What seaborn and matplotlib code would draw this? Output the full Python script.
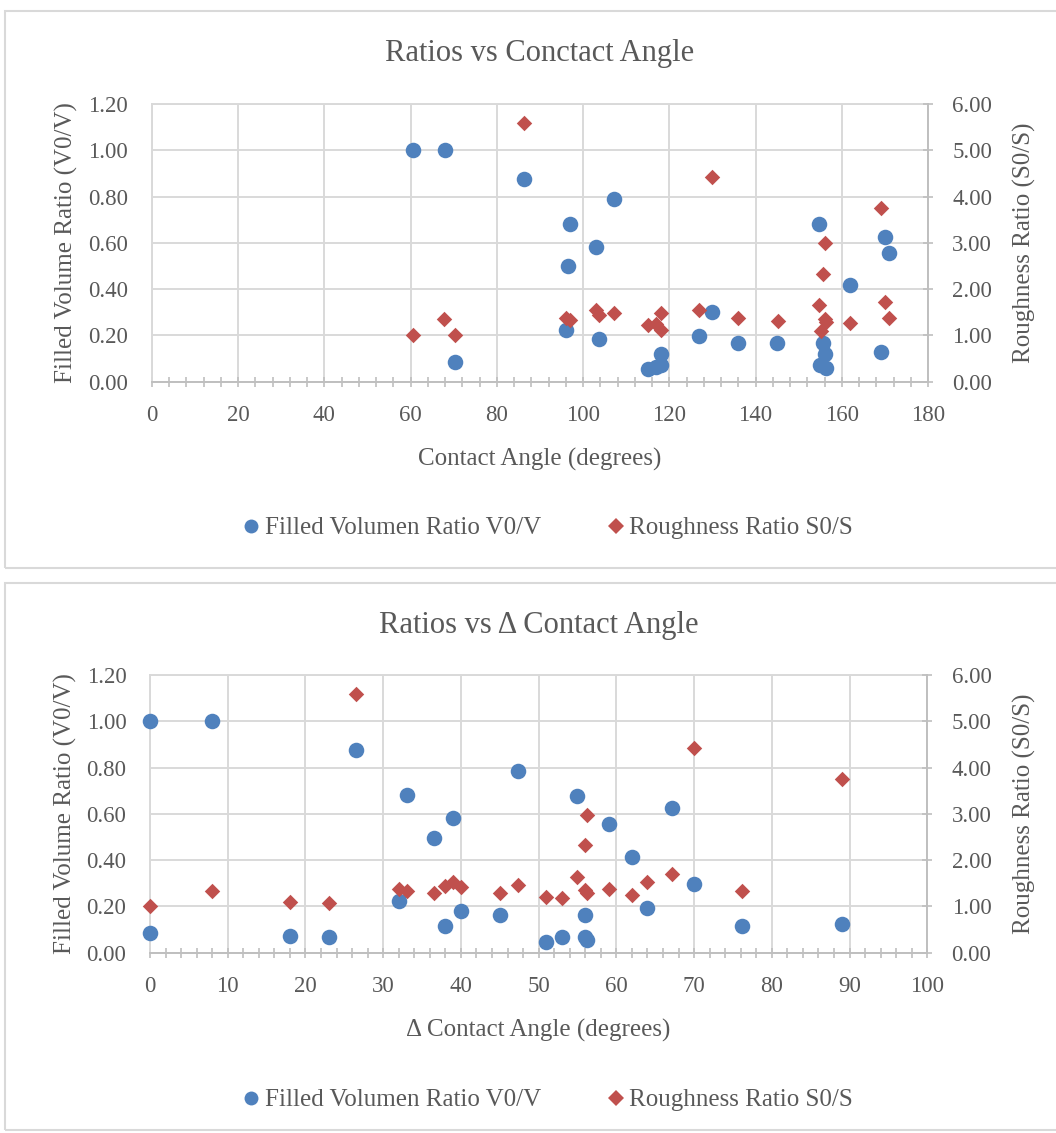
import matplotlib
matplotlib.use("Agg")
import matplotlib.pyplot as plt
import seaborn as sns
import pandas as pd
from matplotlib.patches import Rectangle
from matplotlib.lines import Line2D
from matplotlib.ticker import MultipleLocator, FormatStrFormatter

# ---------------- data ----------------
angle_blue = [60.5, 68.0, 70.2, 86.3, 96.0, 96.6, 97.0, 103.0, 103.8, 107.2,
              115.0, 117.0, 118.0, 118.0, 127.0, 129.9, 136.0, 145.0,
              154.8, 155.0, 155.7, 156.1, 156.4, 162.0, 169.1, 170.0, 171.0]
vol_ratio = [1.00, 1.00, 0.086, 0.875, 0.223, 0.500, 0.681, 0.583, 0.183, 0.788,
             0.054, 0.065, 0.119, 0.072, 0.197, 0.300, 0.168, 0.168,
             0.680, 0.072, 0.168, 0.120, 0.058, 0.418, 0.130, 0.626, 0.556]

angle_red = [60.5, 67.8, 70.2, 86.3, 96.0, 96.9, 103.0, 103.8, 107.2,
             115.0, 117.0, 118.0, 118.0, 127.0, 129.9, 136.0, 145.2,
             154.8, 155.1, 155.7, 156.1, 156.1, 156.3, 162.0, 169.1, 170.0, 171.0]
rough_ratio = [1.00, 1.35, 1.00, 5.58, 1.38, 1.33, 1.55, 1.44, 1.48,
               1.22, 1.25, 1.48, 1.12, 1.54, 4.42, 1.37, 1.31,
               1.66, 1.10, 2.33, 2.99, 1.35, 1.28, 1.26, 3.76, 1.715, 1.37]

delta_blue = [0.0, 8.0, 26.5, 47.3, 33.0, 39.0, 36.6, 32.0, 40.0, 38.0, 45.0,
              0.0, 18.0, 23.0, 54.9, 67.1, 59.0, 62.0, 70.0, 64.0, 56.0,
              76.1, 89.0, 51.0, 53.0, 56.0, 56.2]
delta_vol_ratio = [1.00, 1.00, 0.874, 0.787, 0.681, 0.582, 0.497, 0.222, 0.182, 0.114, 0.165,
                   0.084, 0.071, 0.069, 0.677, 0.625, 0.554, 0.414, 0.297, 0.193, 0.165,
                   0.116, 0.126, 0.048, 0.067, 0.067, 0.055]

delta_red = [0.0, 8.0, 18.0, 23.0, 26.5, 32.0, 33.0, 36.6, 38.0, 39.0, 40.0, 45.0, 47.3,
             51.0, 53.0, 54.9, 56.0, 56.2, 55.9, 56.2, 59.0, 62.0, 64.0, 67.1, 70.0, 76.1, 89.0]
delta_rough_ratio = [1.00, 1.34, 1.09, 1.075, 5.58, 1.385, 1.33, 1.285, 1.45, 1.52, 1.415, 1.285, 1.46,
                     1.20, 1.185, 1.645, 1.36, 1.30, 2.32, 2.98, 1.37, 1.255, 1.52, 1.70, 4.42, 1.34, 3.75]

titles = ["Ratios vs Conctact Angle", "Ratios vs \u0394 Contact Angle"]
xlabels = ["Contact Angle (degrees)", "\u0394 Contact Angle (degrees)"]
left_label = "Filled Volume Ratio (V0/V)"
right_label = "Roughness Ratio (S0/S)"
legend_labels = ["Filled Volumen Ratio V0/V", "Roughness Ratio S0/S"]

# ---------------- style ----------------
BLUE = "#4F81BD"
RED = "#C0504D"
TXT = "#595959"
GRID = "#D9D9D9"
AXC = "#BFBFBF"

sns.set_theme(style="white")
plt.rcParams['font.family'] = ['Liberation Serif', 'DejaVu Serif']

W, H = 1056, 1133
fig = plt.figure(figsize=(W / 100, H / 100), dpi=100)

TICK_FS = 16.5
LABEL_FS = 18
TITLE_FS = 22
LEGEND_FS = 18


def fx(px):
    return px / W


def fy(py):
    return 1 - py / H


def panel(top, bottom):
    fig.add_artist(Rectangle((fx(5), fy(bottom)), fx(1100), fy(top) - fy(bottom),
                             transform=fig.transFigure, fill=False,
                             ec=GRID, lw=1.5))


def draw(rect_px, xb, yb, xr, yr, xmax, xmaj, xmin, title, xlabel,
         title_y, legend_y):
    l, t, r, b = rect_px
    ax = fig.add_axes([fx(l), fy(b), fx(r) - fx(l), fy(t) - fy(b)])
    df_b = pd.DataFrame({"x": xb, "y": yb})
    df_r = pd.DataFrame({"x": xr, "y": yr})
    sns.scatterplot(data=df_b, x="x", y="y", ax=ax, color=BLUE, marker="o",
                    s=125, linewidth=0, zorder=3, clip_on=False)
    ax.set_xlim(0, xmax)
    ax.set_ylim(0, 1.2)
    ax.xaxis.set_major_locator(MultipleLocator(xmaj))
    ax.xaxis.set_minor_locator(MultipleLocator(xmin))
    ax.yaxis.set_major_locator(MultipleLocator(0.2))
    ax.yaxis.set_major_formatter(FormatStrFormatter("%.2f"))
    ax.grid(True, which="major", color=GRID, lw=1.4)
    ax.set_axisbelow(True)
    for s in ["top", "left"]:
        ax.spines[s].set_color(GRID)
        ax.spines[s].set_linewidth(1.4)
    ax.spines["right"].set_visible(False)
    ax.spines["bottom"].set_color(AXC)
    ax.spines["bottom"].set_linewidth(1.4)
    ax.tick_params(axis="y", length=0, pad=17, labelsize=TICK_FS, labelcolor=TXT)
    ax.tick_params(axis="x", which="both", direction="inout", length=7,
                   width=1.2, color=AXC, pad=13, labelsize=TICK_FS, labelcolor=TXT,
                   bottom=True)
    ax.set_xlabel(xlabel, fontsize=LABEL_FS, color=TXT, labelpad=16)
    ax.set_ylabel(left_label, fontsize=LABEL_FS, color=TXT, labelpad=7)

    ax2 = ax.twinx()
    sns.scatterplot(data=df_r, x="x", y="y", ax=ax2, color=RED, marker="D",
                    s=62, linewidth=0, zorder=3, clip_on=False)
    ax2.set_ylim(0, 6)
    ax2.yaxis.set_major_locator(MultipleLocator(1))
    ax2.yaxis.set_major_formatter(FormatStrFormatter("%.2f"))
    for s in ["top", "left", "bottom"]:
        ax2.spines[s].set_visible(False)
    ax2.spines["right"].set_color(AXC)
    ax2.spines["right"].set_linewidth(1.4)
    ax2.tick_params(axis="y", direction="inout", length=7, width=1.2,
                    color=AXC, pad=14, labelsize=TICK_FS, labelcolor=TXT, right=True)
    ax2.set_ylabel(right_label, fontsize=LABEL_FS, color=TXT, labelpad=15,
                   rotation=90)
    ax2.set_xlabel("")
    ax2.grid(False)

    fig.text(fx((l + r) / 2), fy(title_y), title, ha="center", va="center",
             fontsize=TITLE_FS, color=TXT)
    handles = [Line2D([], [], ls="", marker="o", ms=10, color=BLUE, mew=0),
               Line2D([], [], ls="", marker="D", ms=8, color=RED, mew=0)]
    fig.legend(handles, legend_labels, loc="center",
               bbox_to_anchor=(fx(547), fy(legend_y)), ncol=2, frameon=False,
               fontsize=LEGEND_FS, handletextpad=0.15, columnspacing=2.6,
               handlelength=0.8, labelcolor=TXT)


panel(11, 568)
panel(583, 1130)

draw((151.8, 104, 928, 381.7), angle_blue, vol_ratio, angle_red, rough_ratio,
     180, 20, 4, titles[0], xlabels[0], 53, 528)
draw((150, 675, 927.3, 952.7), delta_blue, delta_vol_ratio, delta_red,
     delta_rough_ratio, 100, 10, 2, titles[1], xlabels[1], 626, 1100)

fig.savefig("out.png", dpi=100)
